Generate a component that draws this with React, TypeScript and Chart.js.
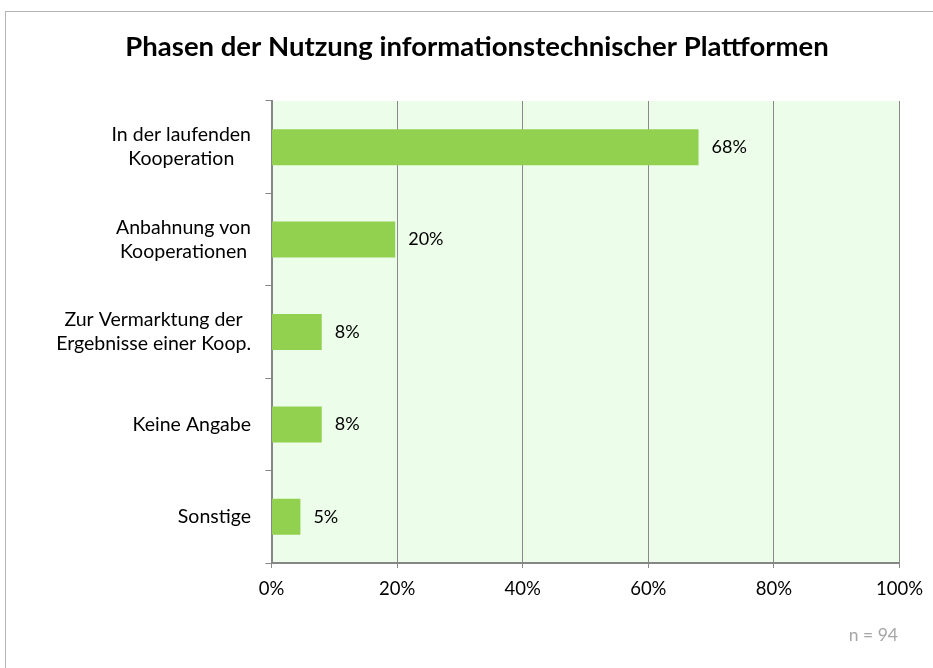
import React, { useEffect, useRef } from "react";
import { Chart, registerables } from "chart.js";

Chart.register(...registerables);

const TITLE = "Phasen der Nutzung informationstechnischer Plattformen";
const categories: string[][] = [
  ["In der laufenden", "Kooperation"],
  ["Anbahnung von", "Kooperationen"],
  ["Zur Vermarktung der", "Ergebnisse einer Koop."],
  ["Keine Angabe"],
  ["Sonstige"],
];
const values: number[] = [68, 19.7, 8, 8, 4.6];
const xTicks: number[] = [0, 20, 40, 60, 80, 100];
const NOTE = "n = 94";

const FONT = "Lato, 'Open Sans', sans-serif";

export default function App() {
  const ref = useRef<HTMLCanvasElement | null>(null);
  useEffect(() => {
    if (!ref.current) return;
    const labelsPlugin = {
      id: "customLabels",
      afterDraw(chart: any) {
        const ctx = chart.ctx;
        const yScale = chart.scales.y;
        ctx.save();
        // title
        ctx.fillStyle = "#000";
        ctx.font = `bold 27.5px ${FONT}`;
        ctx.textAlign = "center";
        ctx.textBaseline = "middle";
        ctx.fillText(TITLE, 477, 47);
        // category labels
        ctx.font = `19.5px ${FONT}`;
        const right = 251;
        const lh = 24;
        categories.forEach((lines, i) => {
          const cy = yScale.getPixelForTick(i);
          const maxW = Math.max(...lines.map((l) => ctx.measureText(l).width));
          const cx = right - maxW / 2;
          lines.forEach((l, j) => {
            ctx.fillText(l, cx, cy + (j - (lines.length - 1) / 2) * lh);
          });
        });
        // data labels
        ctx.font = `18px ${FONT}`;
        const meta = chart.getDatasetMeta(0);
        ctx.textAlign = "left";
        meta.data.forEach((bar: any, i: number) => {
          ctx.fillText(Math.round(values[i]) + "%", bar.x + 13, bar.y);
        });
        // note
        ctx.fillStyle = "#a6a6a6";
        ctx.font = `17.5px ${FONT}`;
        ctx.textAlign = "right";
        ctx.fillText(NOTE, 898, 635);
        ctx.restore();
      },
    };
    const bgPlugin = {
      id: "plotBg",
      beforeDraw(chart: any) {
        const { ctx, chartArea } = chart;
        ctx.save();
        ctx.fillStyle = "rgb(236,253,233)";
        ctx.fillRect(chartArea.left, chartArea.top, chartArea.right - chartArea.left, chartArea.bottom - chartArea.top);
        ctx.restore();
      },
    };
    const chart = new Chart(ref.current, {
      type: "bar",
      data: {
        labels: categories.map((c) => c.join(" ")),
        datasets: [
          {
            data: values,
            backgroundColor: "#92D050",
            borderWidth: 0,
            barPercentage: 0.39,
            categoryPercentage: 1,
          },
        ],
      },
      options: {
        indexAxis: "y",
        animation: false,
        responsive: false,
        maintainAspectRatio: false,
        layout: { padding: { left: 0, right: 33, top: 101, bottom: 0 } },
        plugins: {
          legend: { display: false },
          tooltip: { enabled: false },
          title: { display: false },
        },
        scales: {
          x: {
            min: 0,
            max: 100,
            afterBuildTicks(scale: any) {
              scale.ticks = xTicks.map((v) => ({ value: v }));
            },
            afterFit(scale: any) {
              scale.height = 105;
            },
            ticks: {
              color: "#000",
              font: { family: FONT, size: 18.5 },
              padding: 10,
              callback: (v: any) => v + "%",
              maxRotation: 0,
            },
            grid: { color: "#8a8a8a", lineWidth: 1, tickLength: 5, tickColor: "#8a8a8a" },
            border: { display: true, color: "#868686", width: 2 },
          },
          y: {
            afterFit(scale: any) {
              scale.width = 271.5;
            },
            ticks: { display: false },
            grid: {
              offset: true,
              drawOnChartArea: false,
              tickLength: 6,
              color: "#868686",
            },
            border: { display: true, color: "#868686", width: 2 },
          },
        },
      },
      plugins: [bgPlugin, labelsPlugin],
    });
    return () => chart.destroy();
  }, []);
  return (
    <div style={{ position: "fixed", left: 0, top: 0, width: 933, height: 668, overflow: "hidden", background: "#fff" }}>
      <canvas ref={ref} width={933} height={668} style={{ position: "absolute", left: 0, top: 0 }} />
      <div
        style={{
          position: "absolute",
          left: 5,
          top: 11,
          width: 960,
          height: 700,
          border: "1px solid #b4b4b4",
          pointerEvents: "none",
        }}
      />
    </div>
  );
}
